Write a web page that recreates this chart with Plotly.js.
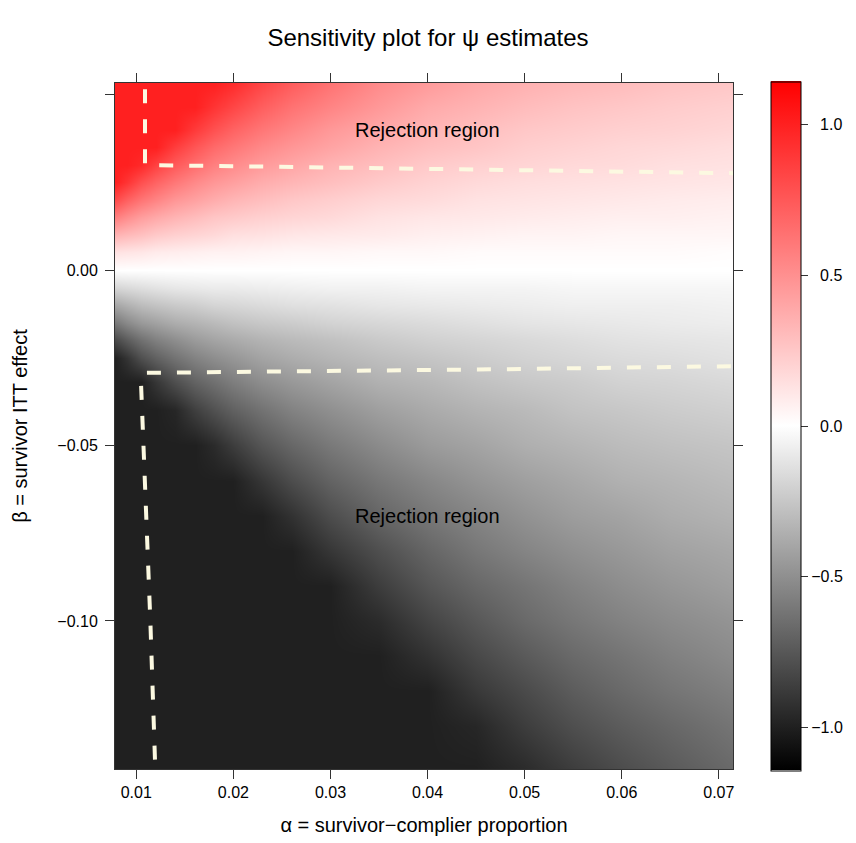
<!DOCTYPE html>
<html>
<head>
<meta charset="utf-8">
<script src="https://cdn.plot.ly/plotly-3.0.1.min.js"></script>
<style>html,body{margin:0;padding:0;background:#fff;}#chart{width:856px;height:843px;}</style>
</head>
<body>
<div id="chart"></div>
<script>
// alpha = survivor-complier proportion (grid columns)
var alphaVals = [0.0078, 0.009, 0.0105, 0.012, 0.014, 0.016, 0.018, 0.020, 0.023, 0.026, 0.030, 0.035, 0.040, 0.045, 0.050, 0.055, 0.060, 0.065, 0.0715];
// beta = survivor ITT effect (grid rows)
var betaVals = [-0.1422, -0.13, -0.12, -0.11, -0.10, -0.09, -0.08, -0.07, -0.06, -0.05, -0.04, -0.032, -0.025, -0.02, -0.015, -0.01, -0.005, 0, 0.005, 0.01, 0.015, 0.02, 0.025, 0.03, 0.035, 0.04, 0.0465, 0.0533];
// psi estimates, one row per beta value
var psiValues = [
  [-1,-1,-1,-1,-1,-1,-1,-1,-1,-1,-1,-1,-1,-1,-0.95,-0.87,-0.80,-0.74,-0.67],
  [-1,-1,-1,-1,-1,-1,-1,-1,-1,-1,-1,-1,-1,-0.97,-0.87,-0.79,-0.73,-0.68,-0.62],
  [-1,-1,-1,-1,-1,-1,-1,-1,-1,-1,-1,-1,-1,-0.89,-0.81,-0.73,-0.67,-0.62,-0.57],
  [-1,-1,-1,-1,-1,-1,-1,-1,-1,-1,-1,-1,-0.92,-0.82,-0.74,-0.67,-0.62,-0.57,-0.52],
  [-1,-1,-1,-1,-1,-1,-1,-1,-1,-1,-1,-0.95,-0.84,-0.75,-0.67,-0.61,-0.56,-0.52,-0.48],
  [-1,-1,-1,-1,-1,-1,-1,-1,-1,-1,-1,-0.87,-0.76,-0.68,-0.62,-0.56,-0.51,-0.47,-0.43],
  [-1,-1,-1,-1,-1,-1,-1,-1,-1,-1,-0.90,-0.79,-0.69,-0.61,-0.55,-0.50,-0.46,-0.42,-0.39],
  [-1,-1,-1,-1,-1,-1,-1,-1,-1,-0.92,-0.80,-0.69,-0.61,-0.55,-0.49,-0.44,-0.41,-0.37,-0.34],
  [-1,-1,-1,-1,-1,-1,-1,-1,-0.90,-0.80,-0.70,-0.61,-0.54,-0.48,-0.43,-0.39,-0.35,-0.33,-0.30],
  [-1,-1,-1,-1,-1,-1,-0.95,-0.87,-0.76,-0.68,-0.60,-0.52,-0.45,-0.41,-0.36,-0.33,-0.30,-0.28,-0.26],
  [-1,-1,-1,-1,-0.97,-0.86,-0.78,-0.71,-0.63,-0.56,-0.50,-0.43,-0.38,-0.34,-0.31,-0.27,-0.25,-0.23,-0.21],
  [-1,-1,-1,-0.90,-0.79,-0.70,-0.64,-0.58,-0.51,-0.46,-0.41,-0.35,-0.32,-0.28,-0.25,-0.23,-0.20,-0.19,-0.17],
  [-1,-0.91,-0.79,-0.71,-0.63,-0.56,-0.51,-0.47,-0.41,-0.37,-0.33,-0.29,-0.26,-0.23,-0.20,-0.18,-0.16,-0.15,-0.13],
  [-0.82,-0.73,-0.64,-0.57,-0.51,-0.45,-0.41,-0.38,-0.34,-0.31,-0.28,-0.24,-0.21,-0.19,-0.17,-0.15,-0.13,-0.12,-0.11],
  [-0.61,-0.53,-0.46,-0.42,-0.37,-0.34,-0.31,-0.28,-0.25,-0.23,-0.20,-0.18,-0.16,-0.14,-0.12,-0.11,-0.10,-0.09,-0.08],
  [-0.40,-0.35,-0.30,-0.27,-0.24,-0.22,-0.19,-0.18,-0.16,-0.14,-0.13,-0.11,-0.10,-0.09,-0.08,-0.07,-0.07,-0.07,-0.06],
  [-0.19,-0.17,-0.15,-0.13,-0.11,-0.10,-0.09,-0.09,-0.08,-0.07,-0.06,-0.06,-0.05,-0.05,-0.05,-0.04,-0.04,-0.04,-0.04],
  [0,0,0,0,0,0,0,0,0,0,0,0,0,0,0,0,0,0,0],
  [0.13,0.12,0.11,0.09,0.08,0.07,0.06,0.06,0.05,0.04,0.04,0.03,0.03,0.02,0.02,0.02,0.02,0.02,0.01],
  [0.34,0.31,0.28,0.24,0.21,0.19,0.17,0.14,0.13,0.11,0.10,0.09,0.07,0.06,0.05,0.05,0.04,0.04,0.04],
  [0.58,0.51,0.44,0.39,0.34,0.30,0.26,0.24,0.21,0.19,0.17,0.13,0.11,0.10,0.09,0.08,0.07,0.07,0.06],
  [0.81,0.71,0.62,0.55,0.47,0.42,0.37,0.33,0.29,0.25,0.22,0.18,0.16,0.13,0.12,0.11,0.10,0.09,0.08],
  [1,0.91,0.79,0.70,0.61,0.53,0.47,0.43,0.37,0.33,0.29,0.24,0.20,0.17,0.15,0.14,0.13,0.12,0.11],
  [1,1,0.96,0.85,0.74,0.65,0.57,0.52,0.45,0.40,0.34,0.29,0.24,0.21,0.19,0.17,0.16,0.14,0.13],
  [1,1,1,1,0.87,0.76,0.67,0.61,0.53,0.47,0.41,0.34,0.29,0.26,0.22,0.20,0.18,0.17,0.15],
  [1,1,1,1,1,0.88,0.78,0.70,0.61,0.54,0.46,0.39,0.33,0.29,0.25,0.23,0.21,0.20,0.18],
  [1,1,1,1,1,1,0.91,0.83,0.72,0.63,0.55,0.46,0.38,0.34,0.30,0.27,0.25,0.23,0.21],
  [1,1,1,1,1,1,1,0.95,0.83,0.73,0.63,0.52,0.45,0.39,0.35,0.32,0.30,0.27,0.25]
];
// rejection-region boundaries (dashed)
var upperAlpha = [0.0109, 0.0109, 0.02, 0.03, 0.04, 0.05, 0.06, 0.0715];
var upperBeta  = [0.0515, 0.0299, 0.0296, 0.0292, 0.0289, 0.0285, 0.0281, 0.0276];
var lowerAlpha = [0.0105, 0.0109, 0.01145, 0.01196];
var lowerBeta  = [-0.0330, -0.06, -0.10, -0.1422];
var lowerHAlpha = [0.0111, 0.02, 0.03, 0.04, 0.05, 0.06, 0.0715];
var lowerHBeta  = [-0.0293, -0.0291, -0.0288, -0.0285, -0.0282, -0.0278, -0.0274];

var xTicks = [0.01, 0.02, 0.03, 0.04, 0.05, 0.06, 0.07];
var xTickText = ['0.01', '0.02', '0.03', '0.04', '0.05', '0.06', '0.07'];
var yTicks = [-0.10, -0.05, 0.00, 0.05];
var yTickText = ['\u22120.10', '\u22120.05', '0.00', ''];
var cTicks = [-1.0, -0.5, 0.0, 0.5, 1.0];
var cTickText = ['\u22121.0', '\u22120.5', '\u20070.0', '\u20070.5', '\u20071.0'];

var FONT = 'Liberation Sans, Arial, Helvetica, sans-serif';
var dashStyle = {color: '#FCF9E1', width: 4, dash: '14px,16px'};

var traces = [
  {
    type: 'heatmap',
    x: alphaVals, y: betaVals, z: psiValues,
    zsmooth: 'best',
    zmin: -1.143, zmax: 1.143,
    colorscale: [[0, '#000000'], [0.5, '#ffffff'], [1, '#ff0000']],
    hoverinfo: 'skip',
    colorbar: {
      x: 1.0613, xanchor: 'left', xpad: 0,
      y: 0.5, yanchor: 'middle', ypad: 0,
      len: 1.005, lenmode: 'fraction',
      thickness: 30, thicknessmode: 'pixels',
      outlinecolor: '#000', outlinewidth: 1,
      ticks: 'outside', ticklen: 7, tickcolor: '#333', tickwidth: 1,
      tickvals: cTicks, ticktext: cTickText,
      tickfont: {family: FONT, size: 16, color: '#000'}
    }
  },
  {type: 'scatter', mode: 'lines', x: upperAlpha, y: upperBeta, line: dashStyle, hoverinfo: 'skip', showlegend: false},
  {type: 'scatter', mode: 'lines', x: lowerAlpha, y: lowerBeta, line: dashStyle, hoverinfo: 'skip', showlegend: false},
  {type: 'scatter', mode: 'lines', x: lowerHAlpha, y: lowerHBeta, line: dashStyle, hoverinfo: 'skip', showlegend: false}
];

var axisCommon = {
  showgrid: false, zeroline: false,
  showline: true, linecolor: '#333', linewidth: 1, mirror: 'ticks',
  ticks: 'outside', ticklen: 9, tickcolor: '#333', tickwidth: 1,
  tickfont: {family: FONT, size: 16, color: '#000'}
};

var layout = {
  width: 856, height: 843,
  margin: {l: 115, r: 121, t: 83, b: 74},
  paper_bgcolor: '#fff', plot_bgcolor: '#fff',
  font: {family: FONT, color: '#000'},
  showlegend: false,
  title: {text: 'Sensitivity plot for \u03c8 estimates', font: {family: FONT, size: 24, color: '#000'},
          x: 0.5, xanchor: 'center', y: 1 - 38 / 843, yanchor: 'middle'},
  xaxis: Object.assign({}, axisCommon, {
    range: [0.00781, 0.07146], tickvals: xTicks, ticktext: xTickText,
    title: {text: '\u03b1 = survivor\u2212complier proportion', font: {family: FONT, size: 20, color: '#000'}, standoff: 17}
  }),
  yaxis: Object.assign({}, axisCommon, {
    range: [-0.1422, 0.0533], tickvals: yTicks, ticktext: yTickText,
    ticklabelstandoff: 4,
    title: {text: '\u03b2 = survivor ITT effect', font: {family: FONT, size: 20, color: '#000'}, standoff: 24}
  }),
  annotations: [
    {x: 0.04, y: 0.04, xref: 'x', yref: 'y', text: 'Rejection region', showarrow: false,
     font: {family: FONT, size: 20, color: '#000'}},
    {x: 0.04, y: -0.07, xref: 'x', yref: 'y', text: 'Rejection region', showarrow: false,
     font: {family: FONT, size: 20, color: '#000'}}
  ]
};

Plotly.newPlot('chart', traces, layout, {displayModeBar: false, staticPlot: true});
</script>
</body>
</html>
